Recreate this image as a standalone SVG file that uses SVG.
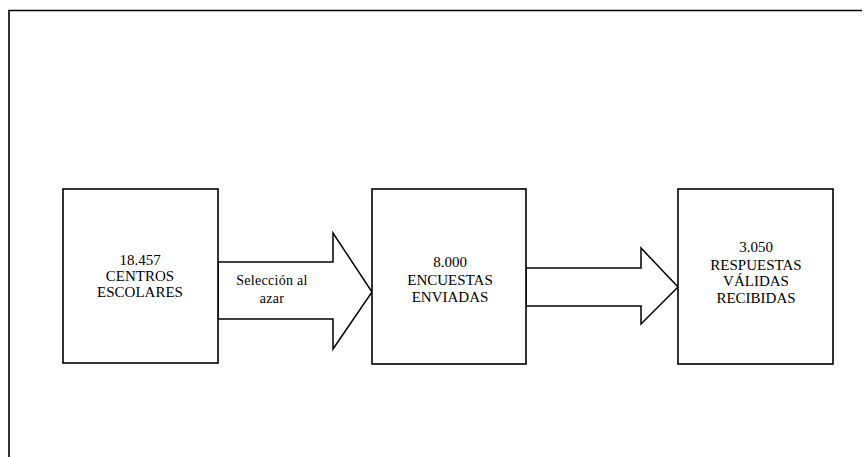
<svg xmlns="http://www.w3.org/2000/svg" width="864" height="457" viewBox="0 0 864 457">
<style>
.box{fill:#fff;stroke:#000;stroke-width:1.6}
.arrow{fill:#fff;stroke:#000;stroke-width:1.5;stroke-linejoin:miter}
.frame{fill:none;stroke:#000;stroke-width:1.6}
.t{font-family:"Liberation Serif","Times New Roman",serif;font-size:15px;text-anchor:middle;fill:#000}
.s{font-family:"Liberation Serif","Times New Roman",serif;font-size:14px;text-anchor:middle;fill:#000;letter-spacing:0.3px}
</style>
<rect width="864" height="457" fill="#fff"/>
<g id="frame">
<path class="frame" d="M9,457 V10.5 H862"/>
</g>
<g id="connectors">
<polygon class="arrow" points="218,262 333,262 333,233 372,292 333,349 333,319 218,319"/>
<text class="s" x="272" y="285">Selección al</text>
<text class="s" x="272" y="303">azar</text>
<polygon class="arrow" points="526,268 641,268 641,248 678,287 641,324 641,306 526,306"/>
</g>
<g id="node1">
<rect class="box" x="63" y="189" width="155" height="174"/>
<text class="t" x="140" y="265">18.457</text>
<text class="t" x="140" y="281">CENTROS</text>
<text class="t" x="140" y="297">ESCOLARES</text>
</g>
<g id="node2">
<rect class="box" x="372" y="189" width="154" height="175"/>
<text class="t" x="450" y="267">8.000</text>
<text class="t" x="450" y="285">ENCUESTAS</text>
<text class="t" x="450" y="302">ENVIADAS</text>
</g>
<g id="node3">
<rect class="box" x="678" y="189" width="155" height="175"/>
<text class="t" x="756" y="252">3.050</text>
<text class="t" x="756" y="270">RESPUESTAS</text>
<text class="t" x="756" y="286">VÁLIDAS</text>
<text class="t" x="756" y="303">RECIBIDAS</text>
</g>
</svg>
